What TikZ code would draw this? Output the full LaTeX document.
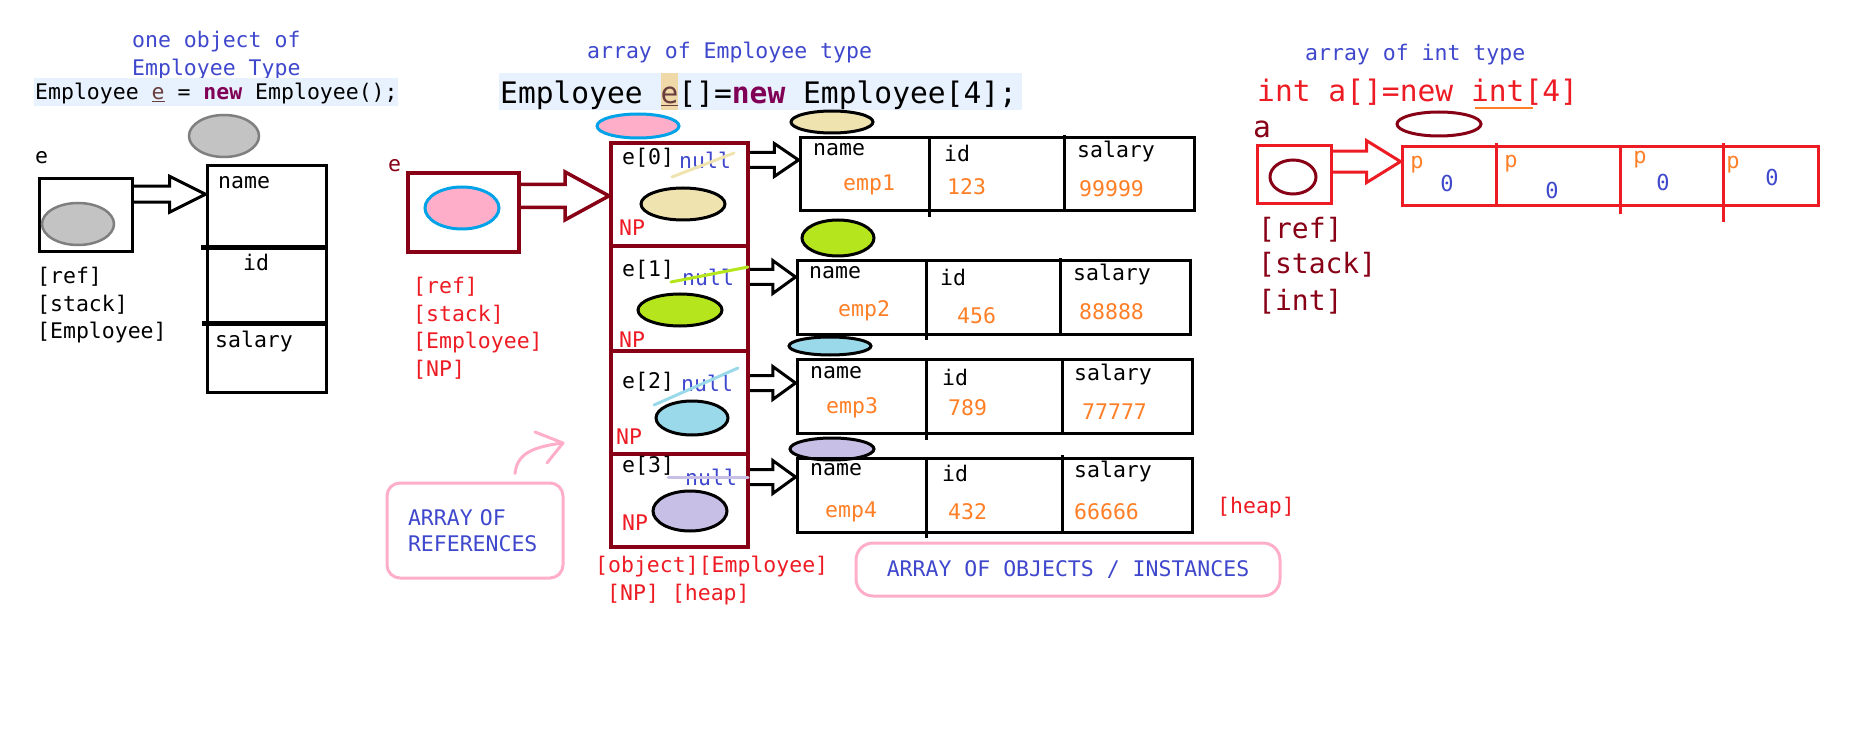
\documentclass[tikz,border=0pt]{standalone}
\usepackage{fontspec}
\setmonofont{DejaVu Sans Mono}
\usetikzlibrary{calc}

\definecolor{codebg}{HTML}{E8F2FE}
\definecolor{hlbg}{HTML}{EFD9A9}
\definecolor{kw}{HTML}{7F0055}
\definecolor{locvar}{HTML}{6A3E3E}
\definecolor{penblue}{HTML}{3F48CC}
\definecolor{wine}{HTML}{880015}
\definecolor{penred}{HTML}{ED1C24}
\definecolor{penorange}{HTML}{FF7F27}
\definecolor{tanfill}{HTML}{EFE4B0}
\definecolor{limefill}{HTML}{B5E61D}
\definecolor{skyfill}{HTML}{99D9EA}
\definecolor{lilacfill}{HTML}{C8BFE7}
\definecolor{pinkfill}{HTML}{FFAEC9}
\definecolor{cyanline}{HTML}{00A2E8}
\definecolor{grayfill}{HTML}{C3C3C3}
\definecolor{grayline}{HTML}{7F7F7F}

\tikzset{
  txt/.style={inner sep=0pt, anchor=west, font=\fontsize{21.5}{26}\selectfont\ttfamily},
  bigtxt/.style={txt, font=\fontsize{29.6}{34}\selectfont\ttfamily},
  tagtxt/.style={txt, font=\fontsize{28}{32}\selectfont\ttfamily},
  smalltxt/.style={inner sep=0pt, font=\fontsize{22}{26}\selectfont\ttfamily},
  pbox/.style={draw, line width=3pt, inner sep=0pt},
  cellbox/.style={draw=wine, line width=4pt, inner sep=0pt, minimum width=137pt},
  blob/.style={draw, line width=3pt},
  strike/.style={line width=3pt, line cap=round},
  note/.style={draw=pinkfill, line width=3pt, rounded corners=15pt, inner sep=0pt,
    text=penblue, font=\fontsize{21.5}{26}\selectfont\ttfamily},
  pinkarrow/.style={draw=pinkfill, line width=3pt, line cap=round, line join=round}
}

% block arrow: [style]{from}{to}{half shaft}{half head}
\newcommand\blkarrow[5][]{%
  \draw[#1] let \p1=(#2), \p2=(#3) in
    (\x1,\y1+#4pt) -- ({(\x1+\x2)/2},\y1+#4pt) -- ({(\x1+\x2)/2},\y1+#5pt) --
    (\x2,\y1) -- ({(\x1+\x2)/2},\y1-#5pt) -- ({(\x1+\x2)/2},\y1-#4pt) -- (\x1,\y1-#4pt);}

\begin{document}
\begin{tikzpicture}[x=1pt,y=-1pt]
	\useasboundingbox (0,0) rectangle (1852,743);
	
	%%%%% ONE OBJECT %%%%%
	
	\node[txt, text=penblue] (hdr1a) at (132,42) {one object of};
	\node[txt, text=penblue] (hdr1b) at (132,70) {Employee Type};
	\fill[codebg] (34,78) rectangle (398,106);
	\node[txt] (code1) at (35,94) {Employee {\color{locvar}\underline{e}} = {\color{kw}\bfseries new} Employee();};
	
	\draw[blob, line width=2.5pt, draw=grayline, fill=grayfill] (224,136) ellipse [x radius=35pt, y radius=21pt];
	\node[txt] (evar1) at (35,158) {e};
	\node[pbox, minimum width=93pt, minimum height=73pt] (ebox) at (85.5,215.5) {};
	\draw[blob, line width=2.5pt, draw=grayline, fill=grayfill] (78,224) ellipse [x radius=36pt, y radius=21pt];
	
	\node[txt] (lref1) at (37,277) {[ref]};
	\node[txt] (lstack1) at (37,305) {[stack]};
	\node[txt] (ltype1) at (37,333) {[Employee]};
	
	\node[pbox, minimum width=119pt, minimum height=226pt] (obj) at (266.5,279) {};
	\draw[line width=5pt] (201,248) -- (328,248);
	\draw[line width=5pt] (202,323) -- (327,323);
	\node[txt] (fname) at (218,183) {name};
	\node[txt] (fid) at (243,262) {id};
	\node[txt] (fsal) at (215,342) {salary};
	
	\blkarrow[line width=3pt]{$(ebox.north east)!0.22!(ebox.south east)$}{obj.west}{8}{18}
	
	%%%%% ARRAY OF REFERENCES %%%%%
	
	\node[txt, text=penblue] (hdr2) at (587,53) {array of Employee type};
	\fill[codebg] (499,73) rectangle (1022,110);
	\fill[hlbg] (661,73) rectangle (678,110);
	\node[bigtxt] (code2) at (500,95) {Employee {\color{locvar}\underline{e}}[]={\color{kw}\bfseries new} Employee[4];};
	
	\draw[blob, draw=cyanline, fill=pinkfill] (638,126) ellipse [x radius=41pt, y radius=12pt];
	\node[txt, text=wine] (evar2) at (388,166) {e};
	\node[pbox, draw=wine, line width=4pt, minimum width=111pt, minimum height=79pt] (refbox) at (463.5,212.5) {};
	\draw[blob, draw=cyanline, fill=pinkfill] (462,208) ellipse [x radius=37pt, y radius=21pt];
	
	\node[txt, text=penred] (lref2) at (413,287) {[ref]};
	\node[txt, text=penred] (lstack2) at (413,315) {[stack]};
	\node[txt, text=penred] (ltype2) at (413,343) {[Employee]};
	\node[txt, text=penred] (lnp2) at (413,370) {[NP]};
	
	\node[cellbox, minimum height=103pt] (c0) at (679.5,194.5) {};
	\node[cellbox, minimum height=105pt] (c1) at (679.5,298.5) {};
	\node[cellbox, minimum height=103pt] (c2) at (679.5,402.5) {};
	\node[cellbox, minimum height=93pt] (c3) at (679.5,500.5) {};
	
	\blkarrow[draw=wine, line width=3.5pt]{$(refbox.north east)!0.3!(refbox.south east)$}{c0.west}{11.5}{24}
	
	\node[txt] (i0) at (622,158) {e[0]};
	\node[txt, text=penblue] (n0) at (679,160) {null};
	\draw[strike, tanfill] (672,177) -- (734,153);
	\draw[blob, fill=tanfill] (683,204) ellipse [x radius=42pt, y radius=16pt];
	\node[txt, text=penred] (np0) at (619,228) {NP};
	
	\node[txt] (i1) at (622,270) {e[1]};
	\node[txt, text=penblue] (n1) at (682,277) {null};
	\draw[strike, limefill] (671,282) -- (748,267);
	\draw[blob, fill=limefill] (680,310) ellipse [x radius=42pt, y radius=16pt];
	\node[txt, text=penred] (np1) at (619,340) {NP};
	
	\node[txt] (i2) at (622,382) {e[2]};
	\node[txt, text=penblue] (n2) at (681,383) {null};
	\draw[strike, skyfill] (654,405) -- (738,368);
	\draw[blob, fill=skyfill] (692,418) ellipse [x radius=36pt, y radius=17pt];
	\node[txt, text=penred] (np2) at (616,437) {NP};
	
	\node[txt] (i3) at (622,466) {e[3]};
	\node[txt, text=penblue] (n3) at (685,477) {null};
	\draw[strike, lilacfill] (668,477) -- (748,477);
	\draw[blob, fill=lilacfill] (690,511) ellipse [x radius=37pt, y radius=20pt];
	\node[txt, text=penred] (np3) at (622,523) {NP};
	
	\node[txt, text=penred] (lobj) at (595,567) {[object][Employee]};
	\node[txt, text=penred] (lheap1) at (607,595) {[NP] [heap]};
	
	\node[note, text width=134pt, minimum height=95pt, inner xsep=21pt, align=left, rounded corners=13pt] (refnote) at (475,530.5) {ARRAY OF\\REFERENCES};
	\coordinate (notetip) at (563,443);
	\draw[pinkarrow] ($(refnote.north)+(40,-8)$) .. controls (517,455) and (530,447) .. (notetip);
	\draw[pinkarrow] (535,432) -- (notetip) -- (547,463);
	
	%%%%% OBJECTS %%%%%
	
	\draw[blob, fill=tanfill] (832,122) ellipse [x radius=41pt, y radius=11pt];
	\node[pbox, minimum width=394pt, minimum height=73pt] (r1) at (997,174.5) {};
	\draw[line width=3pt] (929,138) -- (929,217);
	\draw[line width=3pt] (1064,135) -- (1064,211);
	\node[txt] (r1n) at (813,150) {name};
	\node[txt, text=penorange] (r1nv) at (843,185) {emp1};
	\node[txt] (r1i) at (944,153) {id};
	\node[txt, text=penorange] (r1iv) at (947,187) {123};
	\node[txt] (r1s) at (1077,152) {salary};
	\node[txt, text=penorange] (r1sv) at (1079,189) {99999};
	
	\draw[blob, fill=limefill] (838,238) ellipse [x radius=36pt, y radius=18pt];
	\node[pbox, minimum width=393pt, minimum height=73pt] (r2) at (993.5,297.5) {};
	\draw[line width=3pt] (926,261) -- (926,340);
	\draw[line width=3pt] (1060,258) -- (1060,334);
	\node[txt] (r2n) at (809,273) {name};
	\node[txt, text=penorange] (r2nv) at (838,311) {emp2};
	\node[txt] (r2i) at (940,277) {id};
	\node[txt, text=penorange] (r2iv) at (957,316) {456};
	\node[txt] (r2s) at (1073,275) {salary};
	\node[txt, text=penorange] (r2sv) at (1079,312) {88888};
	
	\draw[blob, fill=skyfill] (830,346) ellipse [x radius=41pt, y radius=9pt];
	\node[pbox, minimum width=395pt, minimum height=74pt] (r3) at (994.5,396) {};
	\draw[line width=3pt] (926,359) -- (926,440);
	\draw[line width=3pt] (1062,359) -- (1062,433);
	\node[txt] (r3n) at (810,373) {name};
	\node[txt, text=penorange] (r3nv) at (826,408) {emp3};
	\node[txt] (r3i) at (942,377) {id};
	\node[txt, text=penorange] (r3iv) at (948,408) {789};
	\node[txt] (r3s) at (1074,375) {salary};
	\node[txt, text=penorange] (r3sv) at (1082,412) {77777};
	
	\draw[blob, fill=lilacfill] (832,449) ellipse [x radius=42pt, y radius=11pt];
	\node[pbox, minimum width=395pt, minimum height=74pt] (r4) at (994.5,495) {};
	\draw[line width=3pt] (926,458) -- (926,538);
	\draw[line width=3pt] (1062,455) -- (1062,532);
	\node[txt] (r4n) at (810,470) {name};
	\node[txt, text=penorange] (r4nv) at (825,512) {emp4};
	\node[txt] (r4i) at (942,473) {id};
	\node[txt, text=penorange] (r4iv) at (948,512) {432};
	\node[txt] (r4s) at (1074,472) {salary};
	\node[txt, text=penorange] (r4sv) at (1074,512) {66666};
	
	\blkarrow[line width=3pt]{c0.east |- n0}{r1.west}{7.5}{16.5}
	\blkarrow[line width=3pt]{c1.east |- n1}{r2.west}{7.5}{16.5}
	\blkarrow[line width=3pt]{c2.east |- n2}{r3.west}{7.5}{16.5}
	\blkarrow[line width=3pt]{c3.east |- n3}{r4.west}{7.5}{16.5}
	
	\node[txt, text=penred] (lheap2) at (1217,508) {[heap]};
	\node[note, minimum width=424pt, minimum height=53pt, rounded corners=17pt] (objnote) at (1068,569.5) {ARRAY OF OBJECTS / INSTANCES};
	
	%%%%% ARRAY OF INT %%%%%
	
	\node[txt, text=penblue] (hdr3) at (1305,55) {array of int type};
	\node[bigtxt, text=penred] (code3) at (1257,92) {int a[]=new int[4]};
	\draw[penorange, line width=2pt] (1475,108) -- (1533,108);
	
	\node[bigtxt, text=wine] (avar) at (1253,129) {a};
	\draw[blob, draw=wine] (1439,124) ellipse [x radius=42pt, y radius=12pt];
	\node[pbox, draw=penred, minimum width=74pt, minimum height=58pt] (abox) at (1294,175) {};
	\draw[blob, draw=wine] (1293,177) ellipse [x radius=23pt, y radius=17pt];
	
	\node[pbox, draw=penred, minimum width=416pt, minimum height=59pt] (iarr) at (1610,176.5) {};
	\draw[penred, line width=3pt] (1496,143) -- (1496,206);
	\draw[penred, line width=3pt] (1620,147) -- (1620,214);
	\draw[penred, line width=3pt] (1723,143) -- (1723,222);
	
	\blkarrow[draw=penred, line width=3pt]{$(abox.north east)!0.28!(abox.south east)$}{iarr.west}{10.5}{21}
	
	\node[smalltxt, text=penorange] (p0) at (1417,165) {p};
	\node[smalltxt, text=penorange] (p1) at (1511,164) {p};
	\node[smalltxt, text=penorange] (p2) at (1640,160) {p};
	\node[smalltxt, text=penorange] (p3) at (1733,165) {p};
	\node[smalltxt, text=penblue] (z0) at (1447,183) {0};
	\node[smalltxt, text=penblue] (z1) at (1552,190) {0};
	\node[smalltxt, text=penblue] (z2) at (1663,182) {0};
	\node[smalltxt, text=penblue] (z3) at (1772,177) {0};
	
	\node[tagtxt, text=wine] (lref3) at (1258,230) {[ref]};
	\node[tagtxt, text=wine] (lstack3) at (1258,265) {[stack]};
	\node[tagtxt, text=wine] (lint3) at (1258,302) {[int]};
	
\end{tikzpicture}
\end{document}
